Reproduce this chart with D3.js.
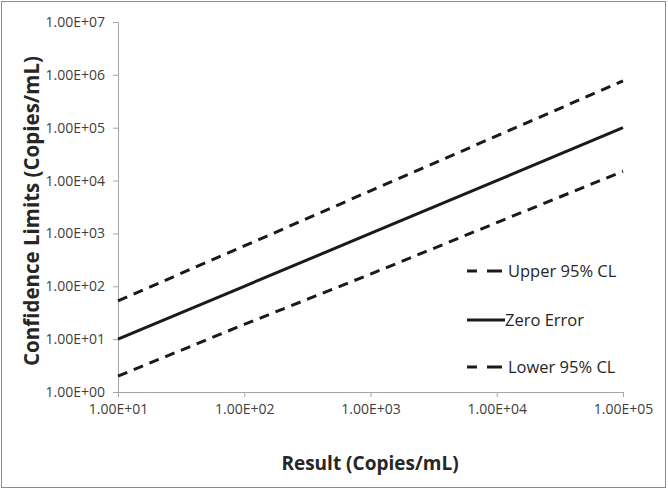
<!DOCTYPE html>
<html><head><meta charset="utf-8">
<script src="https://cdn.jsdelivr.net/npm/d3@7/dist/d3.min.js"></script>
<style>body{margin:0;background:#fff}svg{display:block}
.tick text{font-family:'Open Sans','Noto Sans',sans-serif;font-size:14px;fill:#404040}</style>
</head><body>
<svg id="c" width="668" height="490"></svg>
<script>
const xValues = [10, 100, 1000, 10000, 100000];
const upperCL = [53, 580, 6400, 70000, 770000];
const zeroError = [10, 100, 1000, 10000, 100000];
const lowerCL = [2, 19, 170, 1600, 15000];
const xTicks = [1e1, 1e2, 1e3, 1e4, 1e5];
const yTicks = [1e0, 1e1, 1e2, 1e3, 1e4, 1e5, 1e6, 1e7];
const seriesNames = ["Upper 95% CL", "Zero Error", "Lower 95% CL"];

const svg = d3.select("#c");
const font = "'Open Sans', 'Noto Sans', sans-serif";
svg.append("rect").attr("x",1.5).attr("y",1.5).attr("width",664).attr("height",486)
  .attr("fill","#fff").attr("stroke","#8c8c8c").attr("stroke-width",1);

const x = d3.scaleLog().domain([1e1,1e5]).range([118,623]);
const y = d3.scaleLog().domain([1e0,1e7]).range([392,22]);
const fmt = d => d.toExponential(2).toUpperCase().replace(/E\+(\d)$/,"E+0$1").replace(/E-(\d)$/,"E-0$1");

const xAxis = svg.append("g").attr("transform","translate(0,392)")
  .call(d3.axisBottom(x).tickValues(xTicks).tickFormat(fmt).tickSize(5).tickPadding(7));
const yAxis = svg.append("g").attr("transform","translate(118,0)")
  .call(d3.axisLeft(y).tickValues(yTicks).tickFormat(fmt).tickSize(5).tickPadding(8));
[xAxis,yAxis].forEach(a=>{
  a.attr("font-size",null).attr("font-family",null);
  a.selectAll("path,line").attr("stroke","#a6a6a6").attr("stroke-width",1);
});
xAxis.select(".domain").attr("d","M118.5,0.5H623.5V5");

const series = [
  {name:seriesNames[0], vals:upperCL, dash:"10,7"},
  {name:seriesNames[1], vals:zeroError, dash:null},
  {name:seriesNames[2], vals:lowerCL, dash:"10,7"}
];
const line = d3.line().x(d=>x(d[0])).y(d=>y(d[1]));
series.forEach(s=>{
  svg.append("path").datum(xValues.map((v,i)=>[v,s.vals[i]]))
    .attr("d",line).attr("fill","none").attr("stroke","#1a1a1a")
    .attr("stroke-width",3).attr("stroke-dasharray",s.dash);
});

// legend
const ly = [271, 320, 367];
series.forEach((s,i)=>{
  svg.append("line").attr("x1",467).attr("x2",s.dash?502:505).attr("y1",ly[i]).attr("y2",ly[i])
    .attr("stroke","#1a1a1a").attr("stroke-width",3).attr("stroke-dasharray",s.dash?"10,10,15,0":null);
  svg.append("text").attr("x",s.dash?508:505).attr("y",ly[i]).attr("dy","0.35em")
    .attr("font-family",font).style("font-size","16.5px").attr("fill","#262626").text(s.name);
});

svg.append("text").attr("x",370).attr("y",463).attr("dy","0.35em").attr("text-anchor","middle")
  .attr("font-family",font).attr("font-weight","bold").style("font-size","19px").attr("fill","#262626")
  .text("Result (Copies/mL)");
svg.append("text").attr("transform","translate(32,211) rotate(-90)").attr("dy","0.35em").attr("text-anchor","middle")
  .attr("font-family",font).attr("font-weight","bold").style("font-size","20.5px").attr("fill","#262626")
  .text("Confidence Limits (Copies/mL)");
</script>
</body></html>
